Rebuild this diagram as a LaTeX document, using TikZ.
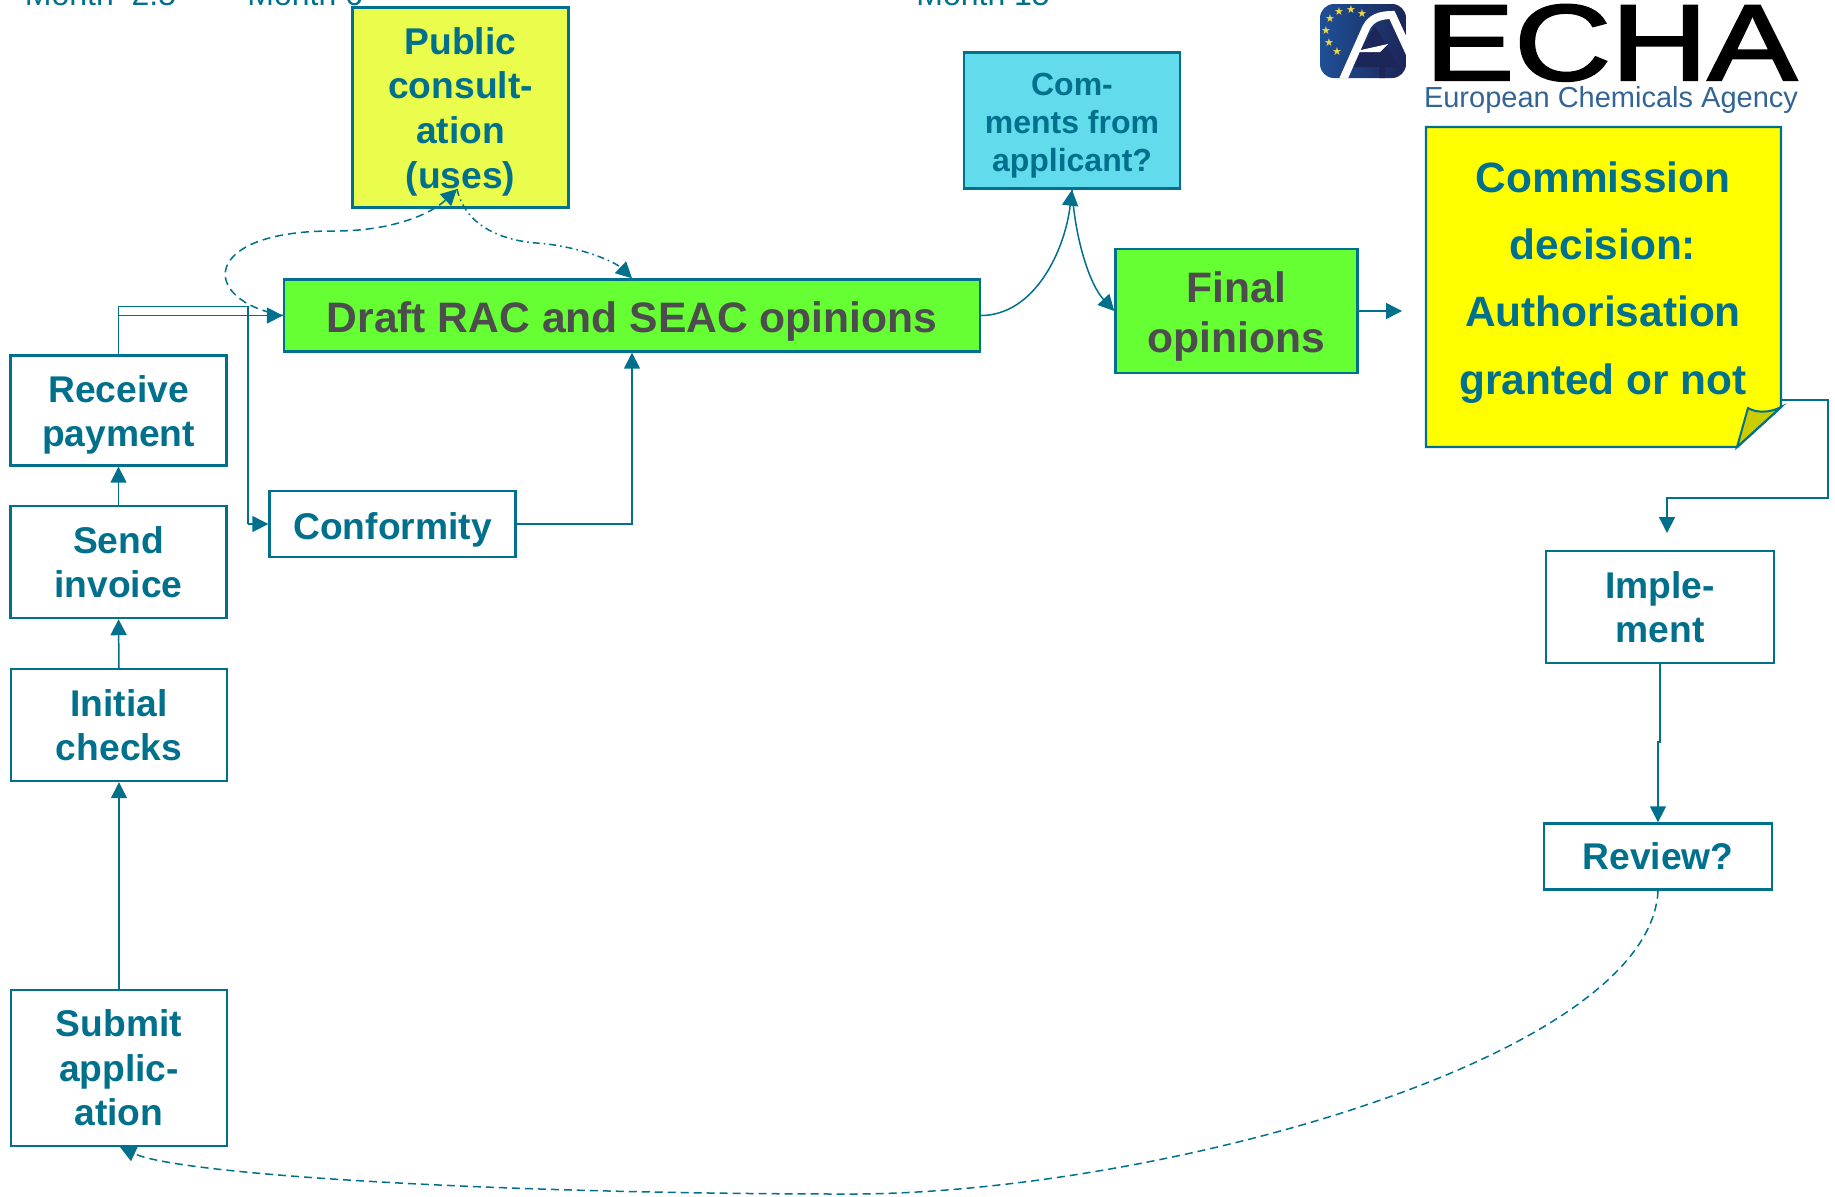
\documentclass[tikz,border=0pt]{standalone}
\usepackage{fontspec}
\setmainfont{Liberation Sans}
\newfontfamily\starfont{DejaVu Sans}
\newfontfamily\echafont[FakeBold=2]{Liberation Sans}
\usetikzlibrary{arrows.meta,positioning}
\definecolor{tealline}{RGB}{0,112,140}
\definecolor{darktext}{RGB}{77,77,77}
\definecolor{limebox}{RGB}{102,255,51}
\definecolor{paleyellow}{RGB}{234,252,76}
\definecolor{skybox}{RGB}{98,219,236}
\definecolor{noteyellow}{RGB}{255,255,0}
\definecolor{foldgold}{RGB}{204,204,0}
\definecolor{logoblue}{RGB}{30,80,150}
\definecolor{logonavy}{RGB}{28,38,88}
\definecolor{logotext}{RGB}{50,100,150}
\definecolor{logostar}{RGB}{235,215,70}
\tikzset{
  stagebox/.style={draw=tealline, line width=1.2pt, inner sep=0pt, align=center, text=tealline, font=\bfseries\fontsize{18.6}{22.3}\selectfont, fill=white},
  opinionbox/.style={stagebox, fill=limebox, text=darktext, font=\bfseries\fontsize{21.3}{25}\selectfont},
  lowertext/.style={execute at begin node={\rule{0pt}{#1}}},
  monthlabel/.style={text=tealline, font=\fontsize{16}{20}\selectfont, anchor=base west, inner sep=0pt},
  flow/.style={draw=tealline, line width=0.75pt, -{Triangle[length=8pt,width=8pt]}},
  plainflow/.style={draw=tealline, line width=0.75pt},
  longdash/.style={dash pattern=on 4pt off 2.5pt},
  longdashdot/.style={dash pattern=on 3.5pt off 2pt on 0.8pt off 2pt}
}
\begin{document}
\begin{tikzpicture}[x=0.5pt,y=-0.5pt]
  \useasboundingbox (0,0) rectangle (1835,1196);
  % month labels, cut at the top edge
  \begin{scope}
    \clip (0,0) rectangle (1835,1196);
    \node[monthlabel] (monthA) at (24.5,5) {Month\ \ 2.5};
    \node[monthlabel] (monthB) at (247,5) {Month 6};
    \node[monthlabel] (monthC) at (916,5) {Month 15};
  \end{scope}
  % boxes
  \node[stagebox, minimum width=108pt, minimum height=78pt] (submit) at (119,1068) {Submit\\applic-\\ation};
  \node[stagebox, minimum width=108pt, minimum height=56pt] (initial) at (119,725) {Initial\\checks};
  \node[stagebox, minimum width=108pt, minimum height=56pt] (invoice) at (118.5,562) {Send\\invoice};
  \node[stagebox, lowertext=40.3pt, minimum width=108pt, minimum height=55pt] (payment) at (118.5,410.5) {Receive\\payment};
  \node[stagebox, lowertext=19pt, minimum width=123pt, minimum height=33pt] (conformity) at (392.5,524) {Conformity};
  \node[opinionbox, lowertext=21.1pt, minimum width=348pt, minimum height=36pt] (draft) at (632,315.5) {Draft RAC and SEAC opinions};
  \node[stagebox, lowertext=84.4pt, fill=paleyellow, minimum width=108pt, minimum height=100pt] (public) at (460.5,107.5) {Public\\consult-\\ation\\(uses)};
  \node[stagebox, lowertext=54.4pt, fill=skybox, minimum width=108pt, minimum height=68pt, font=\bfseries\fontsize{16}{19}\selectfont] (comments) at (1072,120.5) {Com-\\ments from\\applicant?};
  \node[opinionbox, lowertext=45.7pt, minimum width=121pt, minimum height=62pt] (final) at (1236.5,311) {Final\\opinions};
  \node[stagebox, minimum width=114pt, minimum height=56pt] (implement) at (1660,607) {Imple-\\ment};
  \node[stagebox, minimum width=114pt, minimum height=33pt] (review) at (1658,856.5) {Review?};
  % decision note with its folded corner
  \draw[tealline, line width=1.2pt, fill=noteyellow] (1426,127) -- (1781,127) -- (1781,407) -- (1737,447) -- (1426,447) -- cycle;
  \draw[tealline, line width=1pt, fill=foldgold] (1737,447) -- (1748,408) .. controls (1756,413) and (1770,413) .. (1781,407) -- cycle;
  \node[text=tealline, align=center, font=\bfseries\fontsize{21.2}{33.6}\selectfont] (decision) at (1603,282.5) {Commission\\decision:\\Authorisation\\granted or not};
  % logo
  \begin{scope}
    \clip[rounded corners=7pt] (1320,4) rectangle (1406,78);
    \shade[left color=logoblue, right color=logonavy] (1320,4) rectangle (1406,78);
    \fill[logonavy] (1375,26) -- (1399,67) -- (1385,67) -- (1385,78) -- (1379,78) -- (1379,67) -- (1350,67) -- cycle;
    \fill[white] (1352,52) -- (1388,44) -- (1380,52) -- cycle;
    \draw[white, line width=4pt] (1342,82) -- (1366,28) .. controls (1371,18) and (1380,15) .. (1392,15) -- (1410,54);
  \end{scope}
  \foreach \xs/\ys in {1339/12,1351/10,1362/14,1330/19,1326/31,1329/43,1337/52} {
    \node[text=logostar, font=\starfont\fontsize{5.5}{6}\selectfont, inner sep=0pt] at (\xs,\ys) {★};
  }
  \node[text=black, font=\echafont\fontsize{54}{54}\selectfont, xscale=1.24, transform shape, anchor=base, inner sep=0pt] (echa) at (1611,80) {ECHA};
  \node[text=logotext, font=\fontsize{14.5}{17}\selectfont, anchor=base, inner sep=0pt] (agency) at (1611,107) {European Chemicals Agency};
  % connectors
  \draw[flow] (submit.north) -- (initial.south);
  \draw[flow] (initial.north) -- (invoice.south);
  \draw[flow] (invoice.north) -- (payment.south);
  \draw[flow] (payment.north) |- (draft.west);
  \draw[plainflow] (payment.north) -- ++(0,-48) -| (248,524);
  \draw[flow] (248,524) -- (conformity.west);
  \draw[flow] (conformity.east) -| (draft.south);
  \draw[flow, longdash] (draft.west) .. controls (198,300) and (200,230) .. (335,231) .. controls (390,231) and (430,215) .. (457,189);
  \draw[flow, longdashdot] (457,189) .. controls (465,225) and (500,240) .. (536,243) .. controls (580,246) and (615,262) .. (draft.north);
  \draw[flow] (draft.east) .. controls (1035,315) and (1065,250) .. (comments.south);
  \draw[flow] (comments.south) .. controls (1075,240) and (1090,285) .. (final.west);
  \coordinate (decisionEnd) at (1402,311);
  \draw[flow] (final.east) -- (decisionEnd);
  \coordinate (implementEnd) at (1667,533);
  \draw[flow] (1781,400) -- (1828,400) -- (1828,498) -- (1667,498) -- (implementEnd);
  \draw[flow] (implement.south) -- (1660,742) -- (1658,742) -- (review.north);
  \draw[flow, longdash] (review.south) .. controls (1650,1060) and (1150,1194) .. (850,1194) .. controls (500,1194) and (180,1175) .. (120,1147);
\end{tikzpicture}
\end{document}
